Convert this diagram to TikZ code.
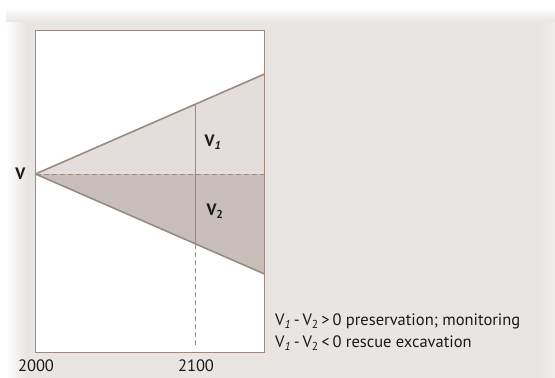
\documentclass[tikz,border=0pt]{standalone}
\usepackage{fontspec}
\setmainfont{PT Sans}
\usetikzlibrary{positioning,calc}

\definecolor{panelbg}{HTML}{E9E5E2}
\definecolor{lightwedge}{HTML}{E3DEDB}
\definecolor{darkwedge}{HTML}{C8BFBA}
\definecolor{edgeline}{HTML}{9B8A80}

\begin{document}
\begin{tikzpicture}[
    x=1pt, y=-1pt,
    every node/.style={font=\fontsize{16.5}{19}\selectfont, text=black!90, inner sep=0pt},
    boldlabel/.style={font=\fontsize{16.5}{19}\selectfont\bfseries},
    wedge/.style={draw=edgeline, line width=1.6pt},
    thinline/.style={draw=edgeline, line width=0.8pt},
    guide/.style={draw=edgeline, line width=0.8pt, dash pattern=on 5pt off 3pt}
]
\useasboundingbox (0,0) rectangle (555,378);
% panel with soft edges
\fill[white] (0,0) rectangle (555,378);
\fill[panelbg] (6,7) rectangle (555,378);
\shade[top color=white, bottom color=panelbg] (6,7) rectangle (555,22);
\shade[left color=white, right color=panelbg] (6,22) rectangle (26,378);
\shade[left color=panelbg, right color=white!30!panelbg] (540,22) rectangle (555,378);

% plot frame
\coordinate (frameNW) at (35.5,30);
\coordinate (frameSE) at (264.5,352);
\fill[white] (frameNW) rectangle (frameSE);

\coordinate (V) at (35.5,174);
\coordinate (upper) at (264.5,74);
\coordinate (mid) at (264.5,174);
\coordinate (lower) at (264.5,274);
\coordinate (cutTop) at (195.5,104.4);
\coordinate (cutBot) at (195.5,243.6);
\coordinate (cutFoot) at (195.5,346);

% wedges
\fill[lightwedge] (V) -- (upper) -- (mid) -- cycle;
\fill[darkwedge] (V) -- (mid) -- (lower) -- cycle;
\draw[thinline] (frameNW) rectangle (frameSE);
\draw[guide] (V) -- (mid);
\draw[thinline] (cutTop) -- (cutBot);
\draw[guide] (cutBot) -- (cutFoot);
\draw[wedge] (V) -- (upper);
\draw[wedge] (V) -- (lower);

% labels
\node[boldlabel, left=10pt of V] (labelV) {V};
\node[boldlabel] (labelVone) at (213,142) {V\textsubscript{\textit{1}}};
\node[boldlabel] (labelVtwo) at (215,211) {V\textsubscript{2}};
\node (yearA) at (36,366) {2000};
\node (yearB) at (196,366) {2100};
\node[anchor=west] (ruleA) at (275,321.5) {V\textsubscript{\textit{1}}\,-\,V\textsubscript{2}\,>\,0 preservation; monitoring};
\node[anchor=west] (ruleB) at (275,343) {V\textsubscript{\textit{1}}\,-\,V\textsubscript{2}\,<\,0 rescue excavation};
\end{tikzpicture}
\end{document}
